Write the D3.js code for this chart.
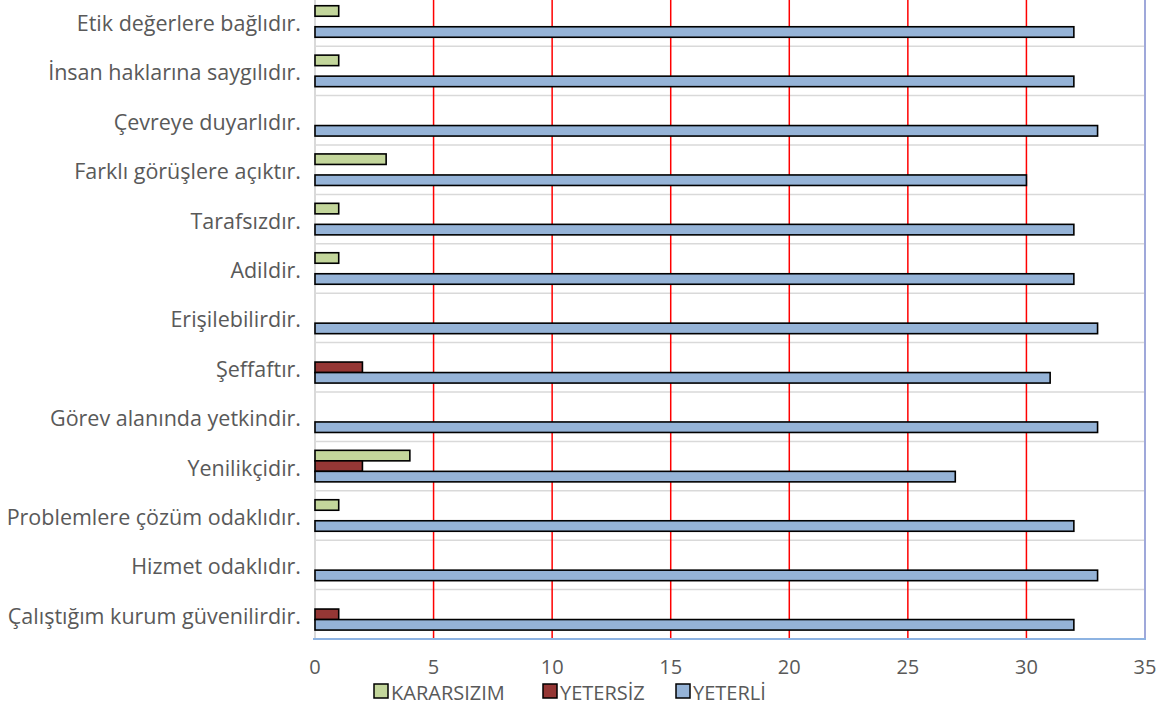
<!DOCTYPE html>
<html><head><meta charset="utf-8">
<script src="https://cdn.jsdelivr.net/npm/d3@7"></script>
<style>body{margin:0;background:#fff;overflow:hidden}svg{display:block}</style>
</head><body>
<svg id="c" width="1168" height="707"></svg>
<script>
const categories = ["Etik değerlere bağlıdır.","İnsan haklarına saygılıdır.","Çevreye duyarlıdır.","Farklı görüşlere açıktır.","Tarafsızdır.","Adildir.","Erişilebilirdir.","Şeffaftır.","Görev alanında yetkindir.","Yenilikçidir.","Problemlere çözüm odaklıdır.","Hizmet odaklıdır.","Çalıştığım kurum güvenilirdir."];
const seriesNames = ["KARARSIZIM","YETERSİZ","YETERLİ"];
const kararsizim = [1,1,0,3,1,1,0,0,0,4,1,0,0];
const yetersiz   = [0,0,0,0,0,0,0,2,0,2,0,0,1];
const yeterli    = [32,32,33,30,32,32,33,31,33,27,32,33,32];
const xTicks = [0,5,10,15,20,25,30,35];
const colors = ["#c3d69b","#953735","#95b3d7"];
const values = [kararsizim, yetersiz, yeterli];

const svg = d3.select("#c");
const font = "'Open Sans', sans-serif";
const L = 315, R = 1145, B = 639, bandH = 49.4;
const T = B - bandH * categories.length;

const x = d3.scaleLinear().domain([0,35]).range([L,R]);
const y = d3.scaleBand().domain(categories).range([T,B]);
const inner = d3.scaleBand().domain(seriesNames).range([0,y.bandwidth()]).paddingOuter(0.85).paddingInner(0);

// horizontal separators
svg.append("g").selectAll("line").data(categories.slice(1)).join("line")
  .attr("x1",L).attr("x2",R).attr("y1",d=>y(d)).attr("y2",d=>y(d))
  .attr("stroke","#d9d9d9").attr("stroke-width",1.5);

// vertical red grid
svg.append("g").selectAll("line").data(xTicks.slice(1,-1)).join("line")
  .attr("x1",d=>x(d)).attr("x2",d=>x(d)).attr("y1",T).attr("y2",B)
  .attr("stroke","#ff0000").attr("stroke-width",1.5);

// left axis line
svg.append("line").attr("x1",L).attr("x2",L).attr("y1",T).attr("y2",B).attr("stroke","#d9d9d9").attr("stroke-width",2);
// right border and bottom
svg.append("line").attr("x1",R).attr("x2",R).attr("y1",T).attr("y2",B).attr("stroke","#9fa8da").attr("stroke-width",2);
svg.append("line").attr("x1",L-2).attr("x2",R+1).attr("y1",B).attr("y2",B).attr("stroke","#8db3e2").attr("stroke-width",2);

// bars
const data = [];
categories.forEach((c,i)=>seriesNames.forEach((s,j)=>{ if(values[j][i]>0) data.push({c,s,v:values[j][i],j}); }));
svg.append("g").selectAll("rect").data(data).join("rect")
  .attr("x",x(0)).attr("y",d=>y(d.c)+inner(d.s))
  .attr("width",d=>x(d.v)-x(0)).attr("height",inner.bandwidth())
  .attr("fill",d=>colors[d.j]).attr("stroke","#000").attr("stroke-width",1.6);

// category labels
svg.append("g").selectAll("text").data(categories).join("text")
  .attr("x",301).attr("y",d=>y(d)+y.bandwidth()/2+1).attr("text-anchor","end")
  .attr("dominant-baseline","central")
  .attr("font-family",font).attr("font-size",21.5).attr("fill","#595959").text(d=>d);

// x tick labels
svg.append("g").selectAll("text").data(xTicks).join("text")
  .attr("x",d=>x(d)).attr("y",666).attr("text-anchor","middle").attr("dominant-baseline","central")
  .attr("font-family",font).attr("font-size",20).attr("fill","#595959").text(d=>d);

// legend
const legX = [374,543,676];
const lg = svg.append("g").selectAll("g").data(seriesNames).join("g")
  .attr("transform",(d,i)=>`translate(${legX[i]},691)`);
lg.append("rect").attr("x",0).attr("y",-7).attr("width",14).attr("height",14)
  .attr("fill",(d,i)=>colors[i]).attr("stroke","#000").attr("stroke-width",1.5);
lg.append("text").attr("x",17).attr("y",1).attr("dominant-baseline","central")
  .attr("font-family",font).attr("font-size",20).attr("fill","#595959").text(d=>d);
</script>
</body></html>
